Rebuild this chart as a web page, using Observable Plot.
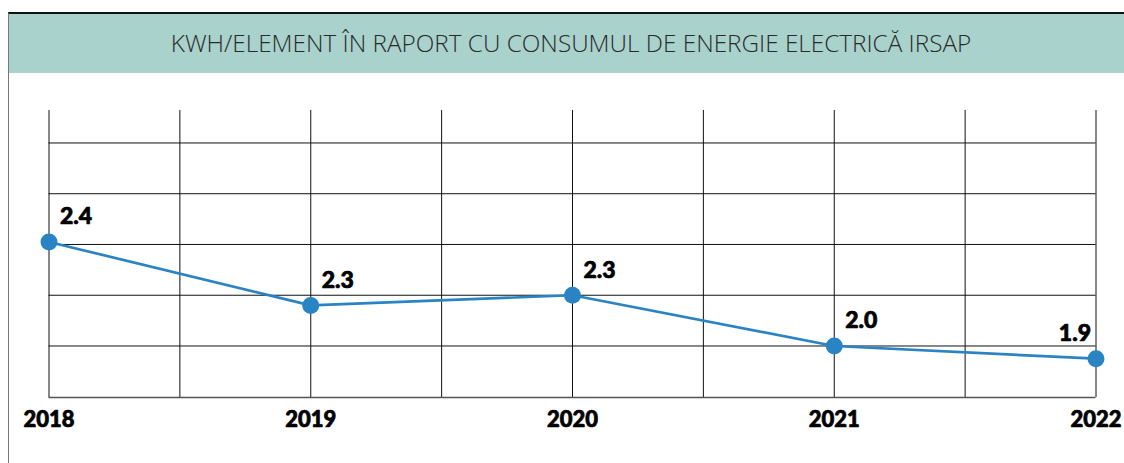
<!DOCTYPE html>
<html>
<head>
<meta charset="utf-8">
<script src="https://cdn.jsdelivr.net/npm/d3@7"></script>
<script src="https://cdn.jsdelivr.net/npm/@observablehq/plot@0.6"></script>
<style>
  html, body { margin: 0; padding: 0; background: #fff; width: 1124px; height: 463px; overflow: hidden; }
  #frame { position: absolute; left: 8px; top: 12px; right: 0; bottom: 0; border-left: 1px solid #777; border-top: 2px solid #111; }
  #header { position: absolute; left: 9px; top: 14px; right: 0; height: 59px; background: #a9d2cc; }
  #title { position: absolute; left: 0; top: 13px; width: 1142px; height: 59px; line-height: 59px; text-align: center;
           font-family: "Open Sans", "Noto Sans", sans-serif; font-weight: 300; font-size: 24.3px; color: #2a2a2a; letter-spacing: 0px; }
  #chart { position: absolute; left: 0; top: 73px; }
</style>
</head>
<body>
<div id="frame"></div>
<div id="header"></div>
<div id="title">KWH/ELEMENT ÎN RAPORT CU CONSUMUL DE ENERGIE ELECTRICĂ IRSAP</div>
<div id="chart"></div>
<script>
const years = [2018, 2019, 2020, 2021, 2022];
const values = [2.41, 2.16, 2.20, 2.00, 1.95];
const valueLabels = ["2.4", "2.3", "2.3", "2.0", "1.9"];
const xGridTicks = [2018, 2018.5, 2019, 2019.5, 2020, 2020.5, 2021, 2021.5, 2022];
const yGridTicks = [2.0, 2.2, 2.4, 2.6, 2.8];

const data = years.map((year, i) => ({ year, value: values[i], label: valueLabels[i] }));
const last = data.length - 1;
const blue = "#2a84c4";
const boldFont = "Lato, 'Open Sans', sans-serif";

const chart = Plot.plot({
  width: 1124,
  height: 390,
  marginTop: 37,
  marginBottom: 66,
  marginLeft: 48.5,
  marginRight: 28.5,
  x: { domain: [2018, 2022], axis: null },
  y: { domain: [1.797, 2.928], axis: null },
  style: { background: "transparent", overflow: "visible" },
  marks: [
    Plot.ruleY(yGridTicks, { stroke: "#111", strokeWidth: 1 }),
    Plot.ruleX(xGridTicks, { stroke: "#111", strokeWidth: 1 }),
    Plot.ruleY([1.797], { stroke: "#555", strokeWidth: 1.5 }),
    Plot.lineY(data, { x: "year", y: "value", stroke: blue, strokeWidth: 2.7 }),
    Plot.dot(data, { x: "year", y: "value", r: 8.5, fill: blue, stroke: "none" }),
    Plot.text(data.filter((d, i) => i !== last), {
      x: "year", y: "value", text: "label", textAnchor: "start", dx: 11, dy: -25,
      fontSize: 23, fontWeight: 900, fontFamily: boldFont, fill: "#000", stroke: "#000", strokeWidth: 0.7
    }),
    Plot.text(data.filter((d, i) => i === last), {
      x: "year", y: "value", text: "label", textAnchor: "end", dx: -5, dy: -25,
      fontSize: 23, fontWeight: 900, fontFamily: boldFont, fill: "#000", stroke: "#000", strokeWidth: 0.7
    }),
    Plot.text(years, {
      x: d => d, frameAnchor: "bottom", text: d => String(d), dy: 14, lineAnchor: "top",
      fontSize: 22, fontWeight: 900, fontFamily: boldFont, fill: "#000", stroke: "#000", strokeWidth: 0.7
    })
  ]
});
document.getElementById("chart").appendChild(chart);
</script>
</body>
</html>
